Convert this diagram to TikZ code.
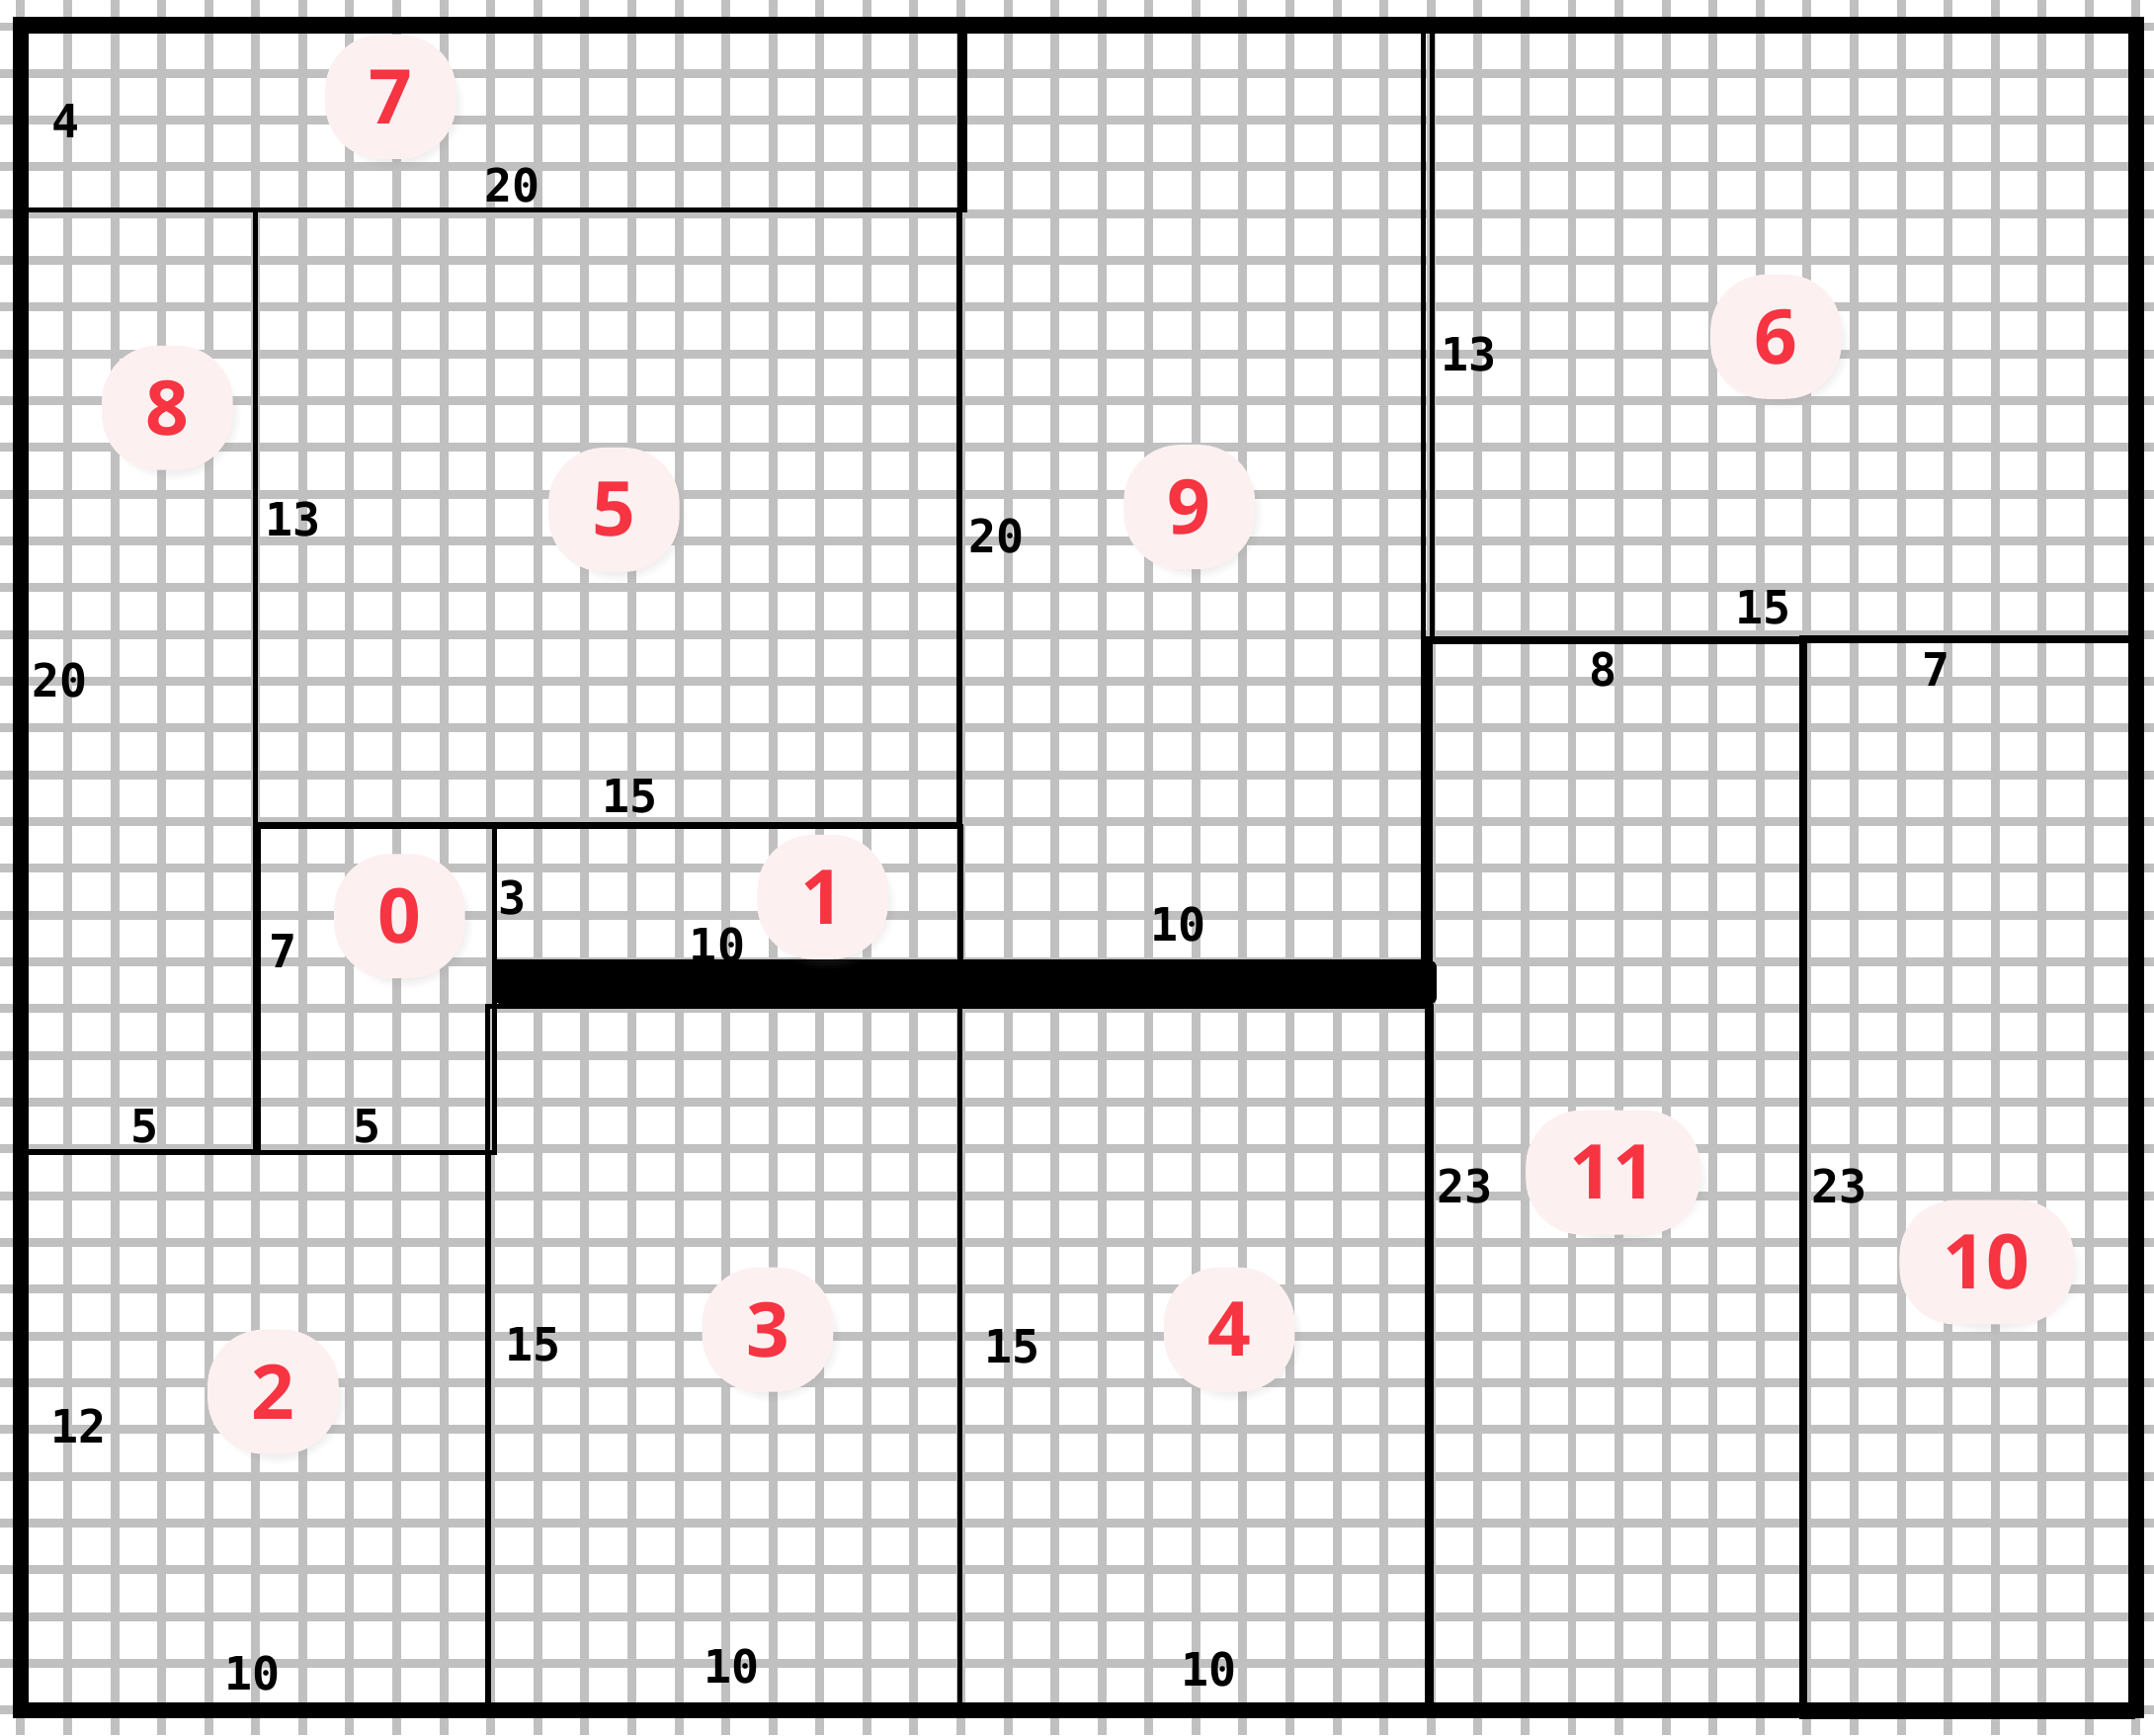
\documentclass[tikz,border=0pt]{standalone}
\usepackage{fontspec}
\usetikzlibrary{shadows}
\newfontfamily\sizefont{DejaVu Sans Mono}
\newfontfamily\tagfont{Open Sans}
\definecolor{gridgray}{RGB}{192,192,192}
\definecolor{tagred}{RGB}{246,52,66}
\definecolor{tagpink}{RGB}{253,240,241}

\begin{document}
\begin{tikzpicture}[x=0.5026cm, y=-0.5cm,
    box/.style={draw=black, line width=1.5pt},
    bigbox/.style={draw=black, line width=2.2pt},
    size/.style={inner sep=0pt, font=\sizefont\bfseries\fontsize{14}{14}\selectfont},
    tag/.style={fill=tagpink, rounded corners=0.6cm, inner xsep=0.47cm, inner ysep=0pt,
        minimum height=1.33cm, minimum width=1.4cm, text=tagred,
        font=\tagfont\bfseries\fontsize{23}{23}\selectfont,
        circular drop shadow={opacity=0.13, shadow scale=1.06, shadow yshift=-2pt}}]
  \useasboundingbox (-0.44,-0.57) rectangle (45.38,36.53);
  % Grid
  \foreach \i in {0,...,45}
    \draw[gridgray, line width=2.7pt] (\i,-0.57) -- (\i,36.53);
  \foreach \j in {0,...,36}
    \draw[gridgray, line width=2.7pt] (-0.44,\j) -- (45.38,\j);
  % Rectangles
  \draw[box] (0,0) rectangle (20.09,3.91);          % 7
  \draw[box] (0,3.91) rectangle (4.99,24.05);       % 8
  \draw[box] (5,3.91) rectangle (19.95,17.05);      % 5
  \draw[box] (5.05,17.1) rectangle (10.08,24.08);   % 0
  \draw[box] (10.08,17.1) rectangle (20,20);        % 1
  \draw[box] (19.97,0) rectangle (29.84,20);        % 9
  \draw[box] (30.03,0) rectangle (45,13.12);        % 6
  \draw[box] (0,24.08) rectangle (9.95,36);         % 2
  \draw[box] (9.93,20.95) rectangle (19.98,36);     % 3
  \draw[box] (19.98,20.95) rectangle (30,36);       % 4
  \draw[bigbox] (29.95,13.12) rectangle (37.92,36); % 11
  \draw[bigbox] (37.92,13.1) rectangle (44.9,36.12); % 10
  % Bar
  \fill[black, rounded corners=2pt] (10.08,19.97) rectangle (30.12,20.9);
  % Frame
  \draw[line width=5pt] (0,-0.03) rectangle (45,36);
  % Sizes
  \node[size] (h7) at (0.95,2.02) {4};
  \node[size] (w7) at (10.46,3.4) {20};
  \node[size] (h8) at (0.84,13.97) {20};
  \node[size] (w8) at (2.63,23.52) {5};
  \node[size] (h5) at (5.8,10.53) {13};
  \node[size] (w5) at (12.95,16.45) {15};
  \node[size] (h0) at (5.59,19.77) {7};
  \node[size] (w0) at (7.36,23.52) {5};
  \node[size] (h1) at (10.45,18.62) {3};
  \node[size] (w1) at (14.82,19.63) {10};
  \node[size] (h9) at (20.76,10.89) {20};
  \node[size] (w9) at (24.63,19.2) {10};
  \node[size] (h6) at (30.8,7.01) {13};
  \node[size] (w6) at (37.07,12.43) {15};
  \node[size] (w11) at (33.67,13.75) {8};
  \node[size] (w10) at (40.75,13.75) {7};
  \node[size] (h11) at (30.71,24.79) {23};
  \node[size] (h10) at (38.69,24.8) {23};
  \node[size] (h2) at (1.23,29.92) {12};
  \node[size] (w2) at (4.93,35.21) {10};
  \node[size] (h3) at (10.9,28.19) {15};
  \node[size] (w3) at (15.13,35.06) {10};
  \node[size] (h4) at (21.1,28.22) {15};
  \node[size] (w4) at (25.27,35.12) {10};
  % Tags
  \foreach \n/\x/\y in {7/7.87/1.5, 8/3.12/8.15, 5/12.62/10.33, 9/24.86/10.27,
      6/37.34/6.63, 0/8.06/19.02, 1/17.06/18.61, 2/5.37/29.19, 3/15.89/27.86,
      4/25.71/27.86, 11/33.87/24.5, 10/41.82/26.42}
    \node[tag] (tag\n) at (\x,\y) {\n};
\end{tikzpicture}
\end{document}
